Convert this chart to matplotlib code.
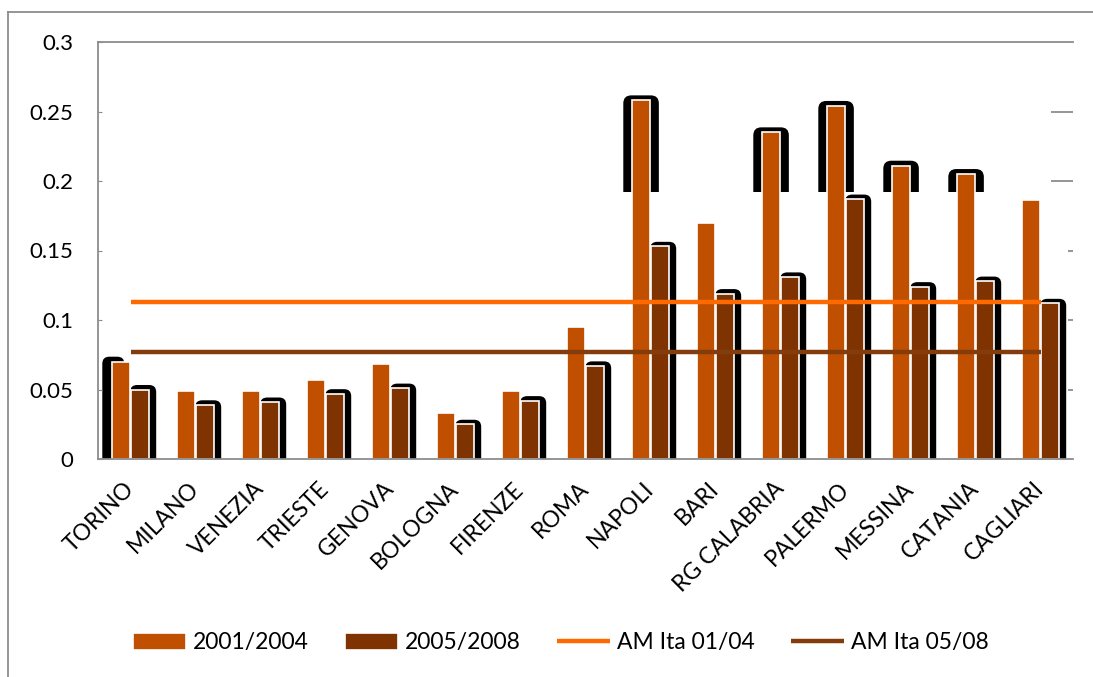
import numpy as np
import matplotlib
matplotlib.use("Agg")
import matplotlib.pyplot as plt
from matplotlib.patches import FancyBboxPatch, Rectangle
from matplotlib.lines import Line2D

plt.rcParams['font.family'] = ['Lato', 'DejaVu Sans']

cities = ['TORINO', 'MILANO', 'VENEZIA', 'TRIESTE', 'GENOVA', 'BOLOGNA', 'FIRENZE', 'ROMA',
          'NAPOLI', 'BARI', 'RG CALABRIA', 'PALERMO', 'MESSINA', 'CATANIA', 'CAGLIARI']
v_0104 = [0.070, 0.049, 0.049, 0.057, 0.068, 0.033, 0.049, 0.095,
          0.258, 0.170, 0.235, 0.254, 0.211, 0.205, 0.186]
v_0508 = [0.050, 0.039, 0.041, 0.047, 0.051, 0.025, 0.042, 0.067,
          0.153, 0.119, 0.131, 0.187, 0.124, 0.128, 0.112]
am_0104 = 0.113
am_0508 = 0.077

c_or = '#C04F00'
c_dk = '#7F3300'
c_l1 = '#FF6A00'
c_l2 = '#843C0C'
gray = '#8C8C8C'

fig = plt.figure(figsize=(10.93, 6.77), dpi=100)
ax = fig.add_axes([98/1093, 1-459/677, 975/1093, 417/677])

n = len(cities)
x = np.arange(n)
w = 0.27
off = 0.145
ax.set_xlim(-0.5, n-0.5)
ax.set_ylim(0, 0.3)

# pixel sizes in data units
px = 1/65.0
py = 0.3/417

# shadows (black rounded boxes behind bars)
for i in range(n):
    l = x[i] + off - w/2
    r = x[i] + off + w/2
    sh = FancyBboxPatch((l - 1*px, -12*py), (r - l) + 8.5*px, v_0508[i] + 16.5*py,
                        boxstyle="round,pad=0,rounding_size=%f" % (7*px),
                        mutation_aspect=py/px, fc='black', ec='none', zorder=1)
    ax.add_patch(sh)

cut = 0.192
for i in range(n):
    l = x[i] - off - w/2
    r = x[i] - off + w/2
    if v_0104[i] > cut:
        cap = FancyBboxPatch((l - 9*px, cut - 20*py), (r - l) + 18*px, v_0104[i] - cut + 25*py,
                             boxstyle="round,pad=0,rounding_size=%f" % (8*px),
                             mutation_aspect=py/px, fc='black', ec='none', zorder=1)
        ax.add_patch(cap)
        cap.set_clip_path(Rectangle((-0.5, cut), n, 0.2, transform=ax.transData))
    elif i == 0:
        sh = FancyBboxPatch((l - 10*px, -12*py), 22*px, v_0104[i] + 17*py,
                            boxstyle="round,pad=0,rounding_size=%f" % (7*px),
                            mutation_aspect=py/px, fc='black', ec='none', zorder=1)
        ax.add_patch(sh)

b1 = ax.bar(x - off, v_0104, w, color=c_or, edgecolor='white', linewidth=1.2, zorder=2, label='2001/2004')
b2 = ax.bar(x + off, v_0508, w, color=c_dk, edgecolor='white', linewidth=1.2, zorder=2, label='2005/2008')
l1, = ax.plot([x[0], x[-1]], [am_0104, am_0104], color=c_l1, lw=3.2, zorder=3, solid_capstyle='butt', label='AM Ita 01/04')
l2, = ax.plot([x[0], x[-1]], [am_0508, am_0508], color=c_l2, lw=3.2, zorder=3, solid_capstyle='butt', label='AM Ita 05/08')

# axes styling
for s in ['left', 'bottom', 'top']:
    ax.spines[s].set_color(gray)
    ax.spines[s].set_linewidth(1.3)
ax.spines['right'].set_visible(False)
ax.set_yticks(np.arange(0, 0.301, 0.05))
ax.set_yticklabels(['0', '0.05', '0.1', '0.15', '0.2', '0.25', '0.3'])
ax.tick_params(axis='y', direction='in', length=3, color=gray, labelsize=16, pad=18)
ax.set_xticks(x)
ax.set_xticklabels(cities, rotation=45, ha='right', va='center', rotation_mode='anchor', fontsize=16.5)
ax.tick_params(axis='x', length=0, pad=19)
for t in ax.get_xticklabels():
    t.set_x(t.get_position()[0])

# leftover gridline pieces at the right edge
yt = ax.get_yaxis_transform()
ax.hlines([0.25, 0.2], 0.977, 1.0, transform=yt, color=gray, lw=1.3, clip_on=False)
ax.hlines([0.15, 0.1, 0.05], 0.995, 1.0, transform=yt, color=gray, lw=1.3, clip_on=False)

# chart area border
fig.add_artist(Line2D([8/1093, 8/1093], [0, 1-12/677], color=gray, lw=1.3))
fig.add_artist(Line2D([8/1093, 1], [1-12/677, 1-12/677], color=gray, lw=1.3))

fig.legend(handles=[b1, b2, l1, l2], loc='center', bbox_to_anchor=(0.513, 1-643/677),
           ncol=4, frameon=False, fontsize=16.5, handlelength=2.3, handleheight=0.7,
           columnspacing=1.6, handletextpad=0.3)

fig.savefig('out.png', dpi=100)
